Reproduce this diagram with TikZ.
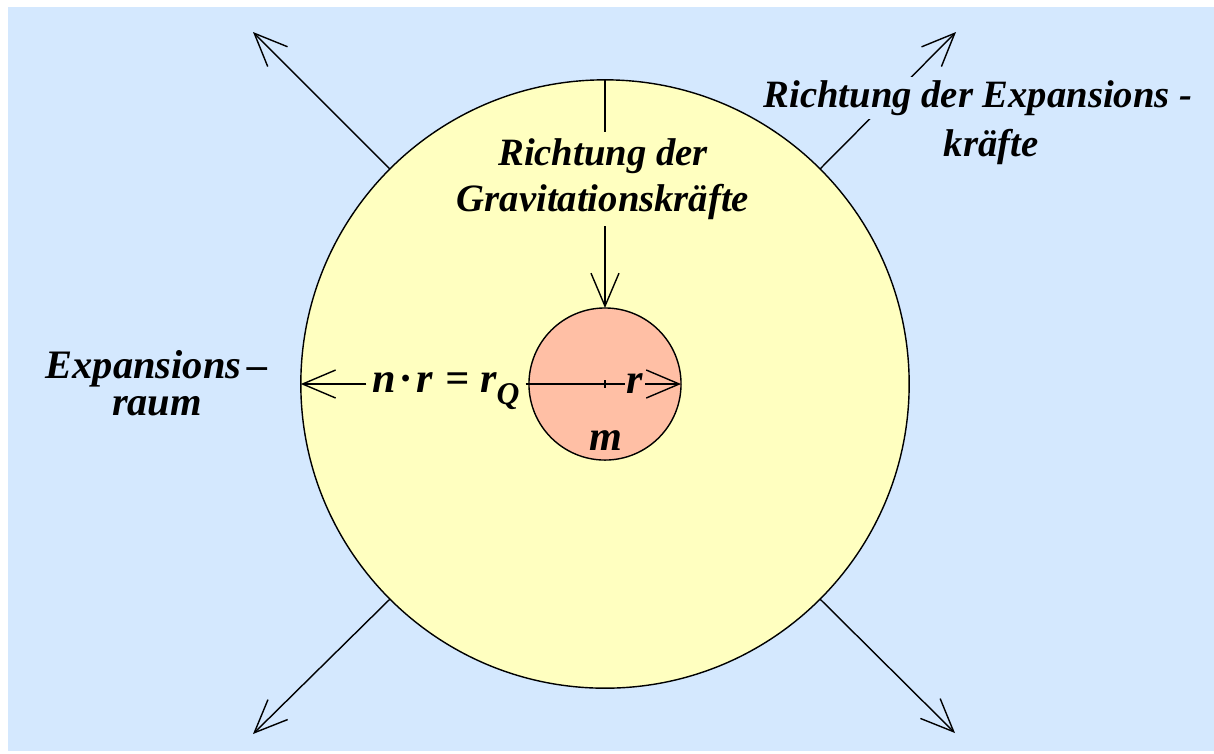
\documentclass[tikz,border=0pt]{standalone}
\usepackage{fontspec}
\setmainfont{Liberation Serif}
\usetikzlibrary{arrows.meta}
\definecolor{himmel}{HTML}{D4E8FE}
\definecolor{raumgelb}{HTML}{FFFFC0}
\definecolor{masserot}{HTML}{FFBFA5}

\begin{document}
\begin{tikzpicture}[x=0.01cm, y=-0.01cm,
  every node/.style={font=\fontsize{11}{13}\selectfont\bfseries\itshape, align=center},
  gross/.style={font=\fontsize{12}{14}\selectfont\bfseries\itshape},
  pfeil/.style={-{Straight Barb[length=3.3mm,width=2.8mm]}, line width=0.4pt}]
  % Background
  \fill[white] (0,0) rectangle (1214,753);
  \fill[himmel] (8,7) rectangle (1214,751);
  % Circles
  \node[circle, draw, fill=raumgelb, minimum size=6.08cm, inner sep=0pt, outer sep=0pt] (raum) at (605,384) {};
  \node[circle, draw, fill=masserot, minimum size=1.52cm, inner sep=0pt, outer sep=0pt] (masse) at (605,384) {};
  % Expansion arrows
  \coordinate (nw) at (253,32);
  \coordinate (ne) at (956,32);
  \coordinate (sw) at (253,734);
  \coordinate (se) at (955,733);
  \draw[pfeil] (raum.135) -- (nw);
  \draw[pfeil] (raum.45) -- (ne);
  \draw[pfeil] (raum.225) -- (sw);
  \draw[pfeil] (raum.315) -- (se);
  \node[fill=himmel, inner sep=1pt] (expzeile) at (978,98) {Richtung der Expansions -};
  \node[inner sep=1pt] (expkraft) at (991,147) {kräfte};
  % Gravitation
  \draw[pfeil] (raum.north) -- (masse.north);
  \node[fill=raumgelb, inner sep=2pt] (grav) at (603,179) {Richtung der\\Gravitationskräfte};
  % Radius
  \node[gross, inner sep=1.5pt, text height=1ex, text depth=0pt] (nr) at (446,384)
    {n\hspace{0.12em}·\hspace{0.12em}r\hspace{0.3em}=\hspace{0.25em}r\raisebox{-3.4pt}{\fontsize{9}{9}\selectfont Q}};
  \draw[pfeil] (nr.west) -- (raum.west);
  \draw (nr.east) -- (masse.center);
  \draw (masse.center) ++(0,-4) -- ++(0,8);
  \draw[pfeil] (masse.center) -- node[gross, fill=masserot, inner sep=0.5pt, pos=0.39] (rlab) {r} (masse.east);
  \node[gross] (mlab) at (606,441) {m};
  % Labels
  \node[font=\fontsize{11.5}{10.5}\selectfont\bfseries\itshape] (exraum) at (157,383) {Expansions\,–\\raum};
\end{tikzpicture}
\end{document}
